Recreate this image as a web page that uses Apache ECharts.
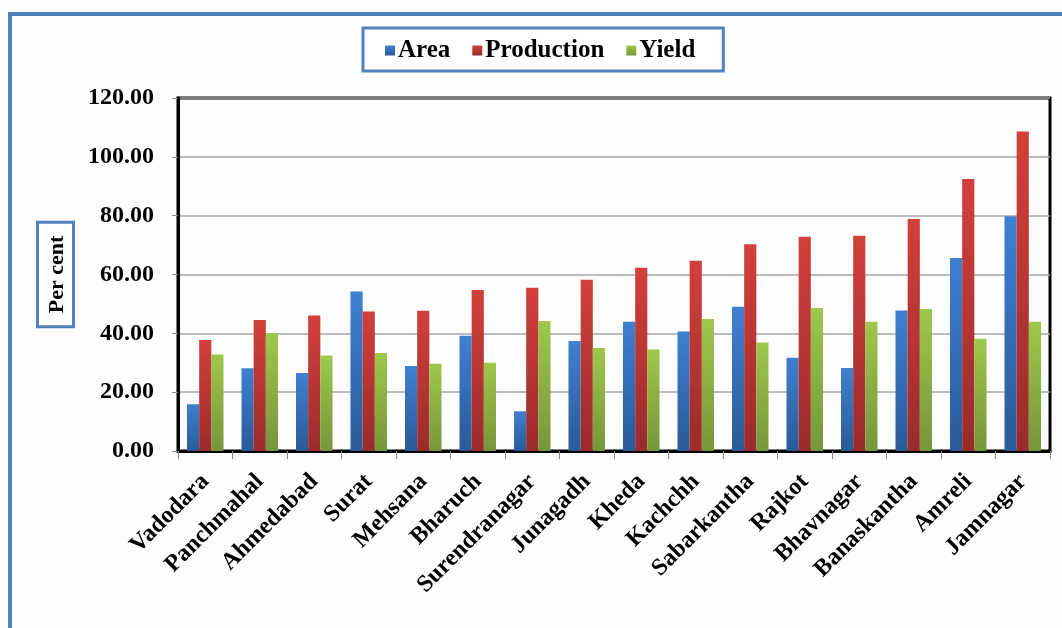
<!DOCTYPE html>
<html>
<head>
<meta charset="utf-8">
<script src="https://cdn.jsdelivr.net/npm/echarts@6/dist/echarts.min.js"></script>
<style>
  html, body { margin: 0; padding: 0; background: #fdfdfd; }
  #chart { width: 1062px; height: 628px; }
</style>
</head>
<body>
<div id="chart"></div>
<script>
// districts, sorted as in the original figure
const districts = ['Vadodara', 'Panchmahal', 'Ahmedabad', 'Surat', 'Mehsana', 'Bharuch',
  'Surendranagar', 'Junagadh', 'Kheda', 'Kachchh', 'Sabarkantha', 'Rajkot',
  'Bhavnagar', 'Banaskantha', 'Amreli', 'Jamnagar'];
const area = [15.9, 28.1, 26.5, 54.2, 28.9, 39.2, 13.5, 37.4, 43.9, 40.6, 49.0, 31.7, 28.2, 47.8, 65.6, 79.8];
const production = [37.7, 44.5, 46.1, 47.4, 47.7, 54.7, 55.5, 58.2, 62.3, 64.7, 70.3, 72.8, 73.2, 78.9, 92.5, 108.6];
const yieldVals = [32.8, 40.0, 32.5, 33.3, 29.7, 30.0, 44.2, 35.0, 34.5, 44.9, 36.9, 48.6, 43.9, 48.3, 38.2, 43.9];

const serifFont = '"Liberation Serif", "Times New Roman", serif';

function grad(top, bottom) {
  return new echarts.graphic.LinearGradient(0, 0, 0, 1, [
    { offset: 0, color: top },
    { offset: 1, color: bottom }
  ]);
}

const chart = echarts.init(document.getElementById('chart'));

const option = {
  backgroundColor: '#fdfdfd',
  animation: false,
  graphic: [{
    // outer chart frame (runs off the right and bottom edge)
    type: 'rect',
    shape: { x: 10, y: 14, width: 1100, height: 700 },
    style: { fill: 'none', stroke: '#4f81bd', lineWidth: 4 },
    silent: true
  }],
  legend: {
    data: ['Area', 'Production', 'Yield'],
    left: 363,
    top: 28,
    padding: [10, 28, 8, 22],
    itemGap: 22,
    itemWidth: 10,
    itemHeight: 10,
    icon: 'rect',
    borderColor: '#4f81bd',
    borderWidth: 3,
    backgroundColor: '#fff',
    textStyle: {
      fontFamily: serifFont,
      fontWeight: 'bold',
      fontSize: 25,
      color: '#000',
      padding: [0, 0, 0, -2]
    }
  },
  grid: {
    left: 178,
    right: 12,
    top: 98,
    bottom: 177,
    show: true,
    borderColor: '#000',
    borderWidth: 3
  },
  xAxis: {
    type: 'category',
    data: districts,
    axisLine: { show: true, lineStyle: { color: '#000', width: 3 } },
    axisTick: { show: true, length: 8, lineStyle: { color: '#888', width: 1 } },
    axisLabel: {
      rotate: 45,
      interval: 0,
      margin: 27,
      fontFamily: serifFont,
      fontWeight: 'bold',
      fontSize: 24,
      color: '#000'
    }
  },
  yAxis: {
    type: 'value',
    min: 0,
    max: 120,
    interval: 20,
    name: 'Per cent',
    nameLocation: 'middle',
    nameRotate: 90,
    nameGap: 106,
    nameTextStyle: {
      fontFamily: serifFont,
      fontWeight: 'bold',
      fontSize: 22,
      color: '#000',
      borderColor: '#4f81bd',
      borderWidth: 3,
      backgroundColor: '#fff',
      padding: [7, 12, 4, 12]
    },
    axisLine: { show: true, lineStyle: { color: '#000', width: 3 } },
    axisTick: { show: true, length: 6, lineStyle: { color: '#888' } },
    axisLabel: {
      formatter: v => v.toFixed(2),
      margin: 24,
      fontFamily: serifFont,
      fontWeight: 'bold',
      fontSize: 24,
      color: '#000'
    },
    splitLine: { lineStyle: { color: '#a6a6a6', width: 1.5 } }
  },
  series: [
    {
      name: 'Area',
      type: 'bar',
      data: area,
      barGap: '0%',
      barCategoryGap: '33%',
      itemStyle: { color: grad('#3f80d0', '#2a5a98') }
    },
    {
      name: 'Production',
      type: 'bar',
      data: production,
      itemStyle: { color: grad('#d2403b', '#9a2b2b') }
    },
    {
      name: 'Yield',
      type: 'bar',
      data: yieldVals,
      itemStyle: { color: grad('#9fc74b', '#76963a') }
    }
  ]
};

chart.setOption(option);
</script>
</body>
</html>
